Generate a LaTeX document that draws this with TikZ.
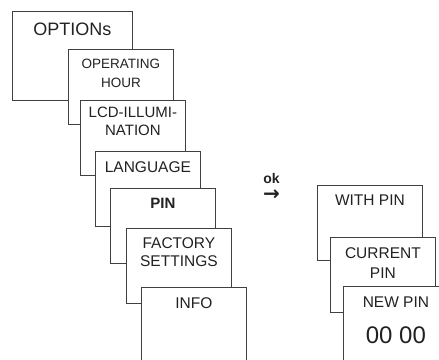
\documentclass[tikz,border=0pt]{standalone}
\usepackage{fontspec}
\setmainfont{Liberation Sans}
\newfontfamily\arrowfont{DejaVu Sans}
\usetikzlibrary{positioning}
\definecolor{framegray}{HTML}{404040}
\definecolor{textgray}{HTML}{222222}

\tikzset{
  menu/.style = {draw=framegray, fill=white, line width=0.8pt, anchor=north west,
    minimum width=105pt, minimum height=75pt, inner sep=0pt},
  title/.style = {anchor=north, yshift=-10pt, inner sep=0pt, align=center,
    text=textgray, font=\fontsize{15.5}{20}\selectfont}
}

\begin{document}
\begin{tikzpicture}[x=1pt, y=-1pt]
    \useasboundingbox (0,0) rectangle (439,359);
    \clip (0,0) rectangle (439,359);

    % main menu stack
    \node[menu, minimum width=120pt, minimum height=89pt,
      label={[title, yshift=-1.5pt, font=\fontsize{18}{22}\selectfont]north:OPTIONs}] (options) at (12,11) {};
    \node[menu, label={[title, font=\fontsize{13.5}{19}\selectfont]north:{OPERATING\\HOUR}}] (hours) at (68,49) {};
    \node[menu, label={[title, yshift=3pt, font=\fontsize{15}{18}\selectfont]north:{LCD-ILLUMI-\\NATION}}] (lcd) at (80,100) {};
    \node[menu, label={[title]north:LANGUAGE}] (language) at (95,151) {};
    \node[menu, label={[title, font=\bfseries\fontsize{15}{18}\selectfont]north:PIN}] (pin) at (110,188) {};
    \node[menu, label={[title, yshift=1pt, font=\fontsize{15.5}{18}\selectfont]north:{FACTORY\\SETTINGS}}] (factory) at (126,228) {};
    \node[menu, minimum height=80pt, label={[title]north:INFO}] (info) at (141,287) {};

    % ok key
    \node[inner sep=0pt, text=textgray, font=\bfseries\fontsize{14}{14}\selectfont] (ok) at (271.5,178.5) {ok};
    \node[inner sep=0pt, text=textgray, font=\arrowfont\bfseries\fontsize{20}{20}\selectfont] (okarrow) at (271.5,195.5) {→};

    % PIN sub menu
    \node[menu, label={[title]north:WITH PIN}] (withpin) at (317,185) {};
    \node[menu, label={[title, font=\fontsize{15.5}{20}\selectfont]north:{CURRENT\\PIN}}] (currentpin) at (330,237) {};
    \node[menu, minimum height=80pt,
      label={[title, yshift=-1pt]north:NEW PIN},
      label={[title, yshift=-31pt, font=\fontsize{24}{24}\selectfont]north:00 00}] (newpin) at (343,286) {};

\end{tikzpicture}
\end{document}
